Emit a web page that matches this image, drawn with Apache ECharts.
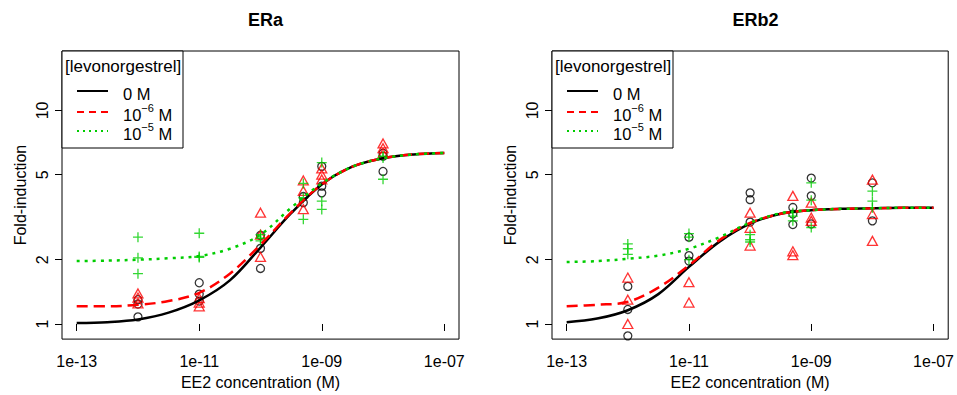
<!DOCTYPE html>
<html>
<head>
<meta charset="utf-8">
<script src="https://cdn.jsdelivr.net/npm/echarts@6/dist/echarts.min.js"></script>
<style>
  html, body { margin: 0; padding: 0; background: #fff; }
  #chart { width: 957px; height: 395px; }
</style>
</head>
<body>
<div id="chart"></div>
<script>
// ---------- data ----------
const panelTitles = ['ERa', 'ERb2'];
const xTickExponents = [-13, -11, -9, -7];
const yTickValues = [1, 2, 5, 10];
const legendTitle = '[levonorgestrel]';
const legendLabels = ['0 M', '10{sup|\u22126} M', '10{sup|\u22125} M'];

// fitted curves (concentration M -> fold-induction)
const curveConc = [1e-13, 3.16e-13, 1e-12, 3.16e-12, 1e-11, 3.16e-11, 1e-10, 3.16e-10, 1e-9, 3.16e-9, 1e-8, 3.16e-8, 1e-7];
const eraCurve0 = [1.01, 1.02, 1.05, 1.13, 1.29, 1.60, 2.28, 3.30, 4.50, 5.45, 5.97, 6.22, 6.32];
const eraCurve6 = [1.21, 1.21, 1.23, 1.28, 1.40, 1.72, 2.35, 3.33, 4.50, 5.45, 5.97, 6.22, 6.32];
const eraCurve5 = [1.97, 1.98, 2.00, 2.03, 2.08, 2.25, 2.62, 3.50, 4.55, 5.45, 5.97, 6.22, 6.32];
const erbCurve0 = [1.02, 1.06, 1.16, 1.38, 1.85, 2.43, 2.95, 3.28, 3.41, 3.46, 3.48, 3.50, 3.50];
const erbCurve6 = [1.21, 1.23, 1.27, 1.48, 1.88, 2.47, 2.97, 3.28, 3.41, 3.46, 3.48, 3.50, 3.50];
const erbCurve5 = [1.95, 1.97, 2.02, 2.09, 2.25, 2.55, 2.98, 3.30, 3.41, 3.46, 3.48, 3.50, 3.50];

// observations [concentration, fold-induction]
const eraObs0 = [[1e-12,1.30],[1e-12,1.24],[1e-12,1.08],[1e-11,1.56],[1e-11,1.38],[1e-11,1.28],[1e-10,2.60],[1e-10,2.26],[1e-10,1.82],[5e-10,3.95],[5e-10,3.70],[1e-9,5.47],[1e-9,4.42],[1e-9,4.11],[1e-8,6.30],[1e-8,6.10],[1e-8,5.18]];
const eraObs6 = [[1e-12,1.39],[1e-12,1.33],[1e-12,1.25],[1e-11,1.32],[1e-11,1.26],[1e-11,1.21],[1e-10,3.32],[1e-10,2.62],[1e-10,2.06],[5e-10,4.70],[5e-10,4.20],[5e-10,3.45],[1e-9,5.35],[1e-9,5.00],[1e-9,4.75],[1e-8,7.00],[1e-8,6.65],[1e-8,6.30]];
const eraObs5 = [[1e-12,2.55],[1e-12,2.04],[1e-12,1.72],[1e-11,2.66],[1e-11,2.07],[1e-11,2.05],[1e-10,2.62],[1e-10,2.52],[1e-10,2.45],[5e-10,4.55],[5e-10,3.90],[5e-10,3.09],[1e-9,5.70],[1e-9,3.76],[1e-9,3.44],[1e-8,6.10],[1e-8,5.98],[1e-8,4.76]];
const erbObs0 = [[1e-12,1.50],[1e-12,1.17],[1e-12,0.88],[1e-11,2.55],[1e-11,2.09],[1e-11,1.97],[1e-10,4.11],[1e-10,3.82],[1e-10,3.00],[5e-10,3.51],[5e-10,3.27],[5e-10,2.92],[1e-9,4.82],[1e-9,3.98],[1e-9,2.94],[1e-8,4.58],[1e-8,3.04]];
const erbObs6 = [[1e-12,1.65],[1e-12,1.30],[1e-12,1.00],[1e-11,1.57],[1e-11,1.26],[1e-10,3.32],[1e-10,2.82],[1e-10,2.33],[5e-10,3.98],[5e-10,2.19],[5e-10,2.10],[1e-9,3.70],[1e-9,3.15],[1e-9,3.04],[1e-8,4.74],[1e-8,3.27],[1e-8,2.45]];
const erbObs5 = [[1e-12,2.37],[1e-12,2.25],[1e-12,2.12],[1e-11,2.65],[1e-11,2.55],[1e-11,2.00],[1e-10,2.62],[1e-10,2.48],[1e-10,2.42],[5e-10,3.32],[5e-10,3.20],[5e-10,3.04],[1e-9,4.58],[1e-9,3.80],[1e-9,2.83],[1e-8,4.19],[1e-8,3.76],[1e-8,3.50]];

// ---------- build ----------
const panels = [
  { curves: [eraCurve0, eraCurve6, eraCurve5], obs: [eraObs0, eraObs6, eraObs5] },
  { curves: [erbCurve0, erbCurve6, erbCurve5], obs: [erbObs0, erbObs6, erbObs5] }
];
const colors = ['#000000', '#FF0000', '#00CD00'];
const dashes = ['solid', [11, 6], [3, 5]];
const FONT = '"Liberation Sans", Arial, Helvetica, sans-serif';
const grids = [
  { left: 62, top: 51, width: 397, height: 290 },
  { left: 552, top: 51, width: 397, height: 290 }
];
const lg = Math.log10;
const xTickLog = xTickExponents;
const yTickLog = yTickValues.map(lg);

function xFmt(v) {
  const e = Math.round(v), a = Math.abs(e);
  return '1e' + (e < 0 ? '-' : '+') + (a < 10 ? '0' : '') + a;
}
function yFmt(v) { return String(Math.round(Math.pow(10, v))); }

const symbols = [
  { symbol: 'circle', size: 8 },
  { symbol: 'triangle', size: [10, 9] },
  { symbol: 'path://M0,5L10,5M5,0L5,10', size: 10 }
];

const xAxes = [], yAxes = [], series = [], titles = [], graphics = [];
panels.forEach((p, i) => {
  const g = grids[i];
  titles.push({
    text: panelTitles[i], left: g.left + g.width / 2, top: 6, textAlign: 'center',
    textStyle: { fontFamily: FONT, fontSize: 18, fontWeight: 'bold', color: '#000' }
  });
  xAxes.push({
    type: 'value', gridIndex: i, min: -13.24, max: -6.76,
    axisLine: { show: false },
    splitLine: { show: false },
    axisTick: { show: true, customValues: xTickLog, length: 7, lineStyle: { color: '#000', width: 1 } },
    axisLabel: { customValues: xTickLog, formatter: xFmt, margin: 14, fontFamily: FONT, fontSize: 16, color: '#000' },
    name: 'EE2 concentration (M)', nameLocation: 'middle', nameGap: 33,
    nameTextStyle: { fontFamily: FONT, fontSize: 16, color: '#000' }
  });
  yAxes.push({
    type: 'value', gridIndex: i, min: -0.0707, max: 1.278,
    axisLine: { show: false },
    splitLine: { show: false },
    axisTick: { show: true, customValues: yTickLog, length: 7, lineStyle: { color: '#000', width: 1 } },
    axisLabel: { customValues: yTickLog, formatter: yFmt, rotate: 90, margin: 12, fontFamily: FONT, fontSize: 16, color: '#000' },
    name: 'Fold-induction', nameLocation: 'middle', nameRotate: 90, nameGap: 34,
    nameTextStyle: { fontFamily: FONT, fontSize: 16, color: '#000' }
  });
  p.obs.forEach((obs, k) => {
    series.push({
      type: 'scatter', xAxisIndex: i, yAxisIndex: i, silent: true,
      symbol: symbols[k].symbol, symbolSize: symbols[k].size,
      itemStyle: { color: 'transparent', borderColor: colors[k], borderWidth: 1.3 },
      data: obs.map(d => [lg(d[0]), lg(d[1])]),
      z: 2
    });
  });
  p.curves.forEach((c, k) => {
    series.push({
      type: 'line', xAxisIndex: i, yAxisIndex: i, silent: true,
      showSymbol: false, symbol: 'none', smooth: 0.35,
      lineStyle: { color: colors[k], width: 2.5, type: dashes[k] },
      data: curveConc.map((x, j) => [lg(x), lg(c[j])]),
      z: 3 + k
    });
  });
  // legend box
  const L = g.left, T = g.top;
  const children = [
    { type: 'rect', shape: { x: L, y: T, width: 121, height: 97 }, style: { fill: '#fff', stroke: '#000', lineWidth: 1 } },
    { type: 'text', x: L + 3, y: T + 15, style: { text: legendTitle, font: '17px ' + FONT, fill: '#000', verticalAlign: 'middle' } }
  ];
  const rowY = [40, 61, 80];
  legendLabels.forEach((lab, k) => {
    children.push({ type: 'line', shape: { x1: L + 15, y1: T + rowY[k], x2: L + 46, y2: T + rowY[k] },
      style: { stroke: colors[k], lineWidth: 2, lineDash: k === 0 ? null : (k === 1 ? [7, 5] : [2, 4]) } });
    children.push({ type: 'text', x: L + 61, y: T + rowY[k] + 3, style: {
      text: lab, font: '16.5px ' + FONT, fill: '#000', verticalAlign: 'middle', lineHeight: 26,
      rich: { sup: { fontSize: 11, fontFamily: FONT, verticalAlign: 'top', lineHeight: 12, fill: '#000' } }
    } });
  });
  graphics.push({ type: 'group', z: 100, children: children });
});

const chart = echarts.init(document.getElementById('chart'), null, { renderer: 'svg' });
chart.setOption({
  animation: false,
  backgroundColor: '#fff',
  textStyle: { fontFamily: FONT },
  title: titles,
  grid: grids.map(g => Object.assign({ show: true, borderColor: '#000', borderWidth: 1, backgroundColor: 'transparent', containLabel: false }, g)),
  xAxis: xAxes,
  yAxis: yAxes,
  series: series,
  graphic: graphics
});
</script>
</body>
</html>
